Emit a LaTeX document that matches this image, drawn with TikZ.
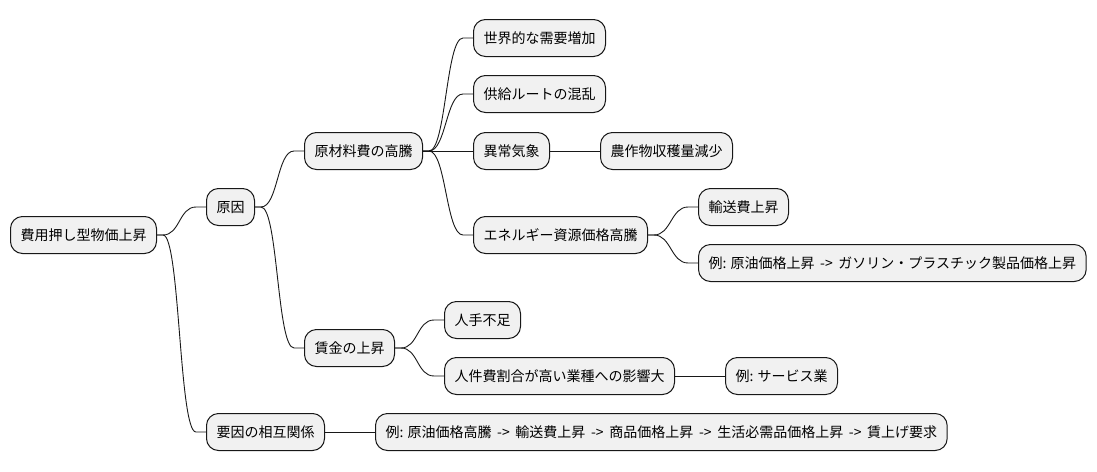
\documentclass[tikz,border=0pt]{standalone}
\usepackage{fontspec}
\setmainfont{Noto Sans CJK JP}
\definecolor{boxfill}{HTML}{F1F1F1}
\definecolor{boxline}{HTML}{181818}
\tikzset{
  mmbox/.style={draw=boxline, fill=boxfill, rounded corners=12pt, line width=1pt,
    inner xsep=10pt, inner ysep=0pt, minimum height=37pt, text height=12pt, text depth=2pt,
    font=\fontsize{14}{16}\selectfont, anchor=west},
  mmline/.style={draw=boxline, line width=0.9pt}
}
\newcommand\mmcurve[2]{\draw[mmline] (#1.east) -- ++(6,0) .. controls +(17,0) and +(-17,0) .. ([xshift=-10pt]#2.west) -- (#2.west);}
\newcommand\mmstraight[2]{\draw[mmline] (#1.east) -- (#2.west);}
\newcommand\arw{\kern2.5pt\ ->\ \kern2.5pt}
\begin{document}
\begin{tikzpicture}[x=1pt,y=-1pt]
\useasboundingbox[fill=white] (0,0) rectangle (1097,471);
\node[mmbox] (r) at (10,235) {費用押し型物価上昇};
\node[mmbox] (a) at ([xshift=49pt]r.east |- 0,207) {原因};
\node[mmbox] (b) at ([xshift=49pt]a.east |- 0,151) {原材料費の高騰};
\node[mmbox] (b1) at ([xshift=50pt]b.east |- 0,38) {世界的な需要増加};
\node[mmbox] (b2) at ([xshift=50pt]b.east |- 0,94) {供給ルートの混乱};
\node[mmbox] (b3) at ([xshift=50pt]b.east |- 0,151) {異常気象};
\node[mmbox] (b31) at ([xshift=50pt]b3.east |- 0,151) {農作物収穫量減少};
\node[mmbox] (b4) at ([xshift=50pt]b.east |- 0,235) {エネルギー資源価格高騰};
\node[mmbox] (b41) at ([xshift=50pt]b4.east |- 0,207) {輸送費上昇};
\node[mmbox] (b42) at ([xshift=50pt]b4.east |- 0,263) {例: 原油価格上昇\arw ガソリン・プラスチック製品価格上昇};
\node[mmbox] (c) at ([xshift=49pt]a.east |- 0,348) {賃金の上昇};
\node[mmbox] (c1) at ([xshift=49pt]c.east |- 0,320) {人手不足};
\node[mmbox] (c2) at ([xshift=49pt]c.east |- 0,376) {人件費割合が高い業種への影響大};
\node[mmbox] (c21) at ([xshift=50pt]c2.east |- 0,376) {例: サービス業};
\node[mmbox] (d) at ([xshift=49pt]r.east |- 0,432) {要因の相互関係};
\node[mmbox] (d1) at ([xshift=50pt]d.east |- 0,432) {例: 原油価格高騰\arw 輸送費上昇\arw 商品価格上昇\arw 生活必需品価格上昇\arw 賃上げ要求};
\mmcurve{r}{a}
\mmcurve{r}{d}
\mmcurve{a}{b}
\mmcurve{a}{c}
\mmcurve{b}{b1}
\mmcurve{b}{b2}
\mmstraight{b}{b3}
\mmcurve{b}{b4}
\mmstraight{b3}{b31}
\mmcurve{b4}{b41}
\mmcurve{b4}{b42}
\mmcurve{c}{c1}
\mmcurve{c}{c2}
\mmstraight{c2}{c21}
\mmstraight{d}{d1}
\end{tikzpicture}
\end{document}
